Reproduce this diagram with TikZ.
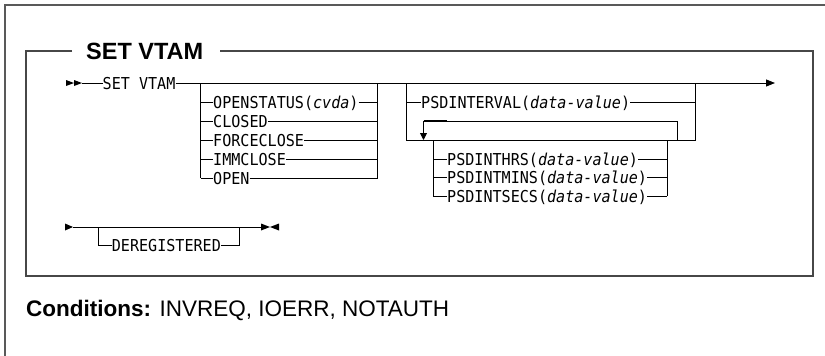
\documentclass[tikz,border=0pt]{standalone}
\usepackage{fontspec}
\setmainfont{Liberation Sans}
\newfontfamily\rrfont{DejaVu Sans Mono}[ItalicFont={DejaVu Sans Mono Oblique}]
\usetikzlibrary{arrows.meta}
\begin{document}
\begin{tikzpicture}[x=1pt,y=-1pt,
  rr/.style={line width=0.9pt, black},
  rrtext/.style={font=\rrfont\fontsize{16.4}{18}\selectfont, inner sep=0pt, anchor=base west, xscale=0.92},
  boxline/.style={line width=2pt, black!72},
  frameline/.style={line width=1.2pt, black!65},
  titletext/.style={font=\bfseries\fontsize{23.5}{26}\selectfont, inner sep=0pt, anchor=base west},
  condtext/.style={font=\fontsize{22.5}{26}\selectfont, inner sep=0pt, anchor=base west},
  tri/.style={fill=black},
  downtip/.style={-{Triangle[length=7pt,width=7pt]}}
]
\useasboundingbox (0,0) rectangle (825,356);

% outer frame (top and left)
\coordinate (fTL) at (5,5);
\coordinate (fTR) at (825,5);
\coordinate (fBL) at (5,356);
\draw[frameline] (fTR) -- (fTL) -- (fBL);

% inner box with title
\coordinate (bTL) at (26,51);
\coordinate (bBL) at (26,276);
\coordinate (bBR) at (813,276);
\coordinate (bTR) at (813,51);
\node[titletext] (title) at (86,59.5) {SET VTAM};
\coordinate (tA) at (72,51);
\coordinate (tB) at (220,51);
\draw[boxline] (tA) -- (bTL) -- (bBL) -- (bBR) -- (bTR) -- (tB);

% ---- main line ----
\coordinate (m) at (0,83);
\fill[tri] (66,80) -- (74,83) -- (66,86) -- cycle;
\fill[tri] (74,80) -- (82,83) -- (74,86) -- cycle;
\coordinate (mstart) at (82,83);
\node[rrtext] (set) at (102.5,89) {SET VTAM};
\coordinate (mend) at (775,83);
\draw[rr] (mstart) -- (set.west |- m);
\draw[rr, -{Triangle[length=9pt,width=7pt]}] (set.east |- m) -- (mend);

% ---- group 1 ----
\coordinate (g1l) at (200.7,0);
\coordinate (g1r) at (377.7,0);
\coordinate (r1) at (0,102);
\coordinate (r2) at (0,121);
\coordinate (r3) at (0,140);
\coordinate (r4) at (0,159);
\coordinate (r5) at (0,178);
\draw[rr] (g1l |- m) -- (g1l |- r5);
\draw[rr] (g1r |- m) -- (g1r |- r5);
\node[rrtext] (ostat) at (213,108) {OPENSTATUS(\textit{cvda})};
\node[rrtext] (closed) at (213,127) {CLOSED};
\node[rrtext] (force) at (213,146) {FORCECLOSE};
\node[rrtext] (imm) at (213,165) {IMMCLOSE};
\node[rrtext] (open) at (213,184) {OPEN};
\foreach \n/\r in {ostat/r1,closed/r2,force/r3,imm/r4,open/r5}{
  \draw[rr] (g1l |- \r) -- (\n.west |- \r);
  \draw[rr] (\n.east |- \r) -- (g1r |- \r);
}

% ---- group 2 ----
\coordinate (g2l) at (406,0);
\coordinate (g2r) at (695,0);
\coordinate (s1) at (0,102.3);
\coordinate (s2) at (0,140);
\draw[rr] (g2l |- m) -- (g2l |- s2) -- (g2r |- s2) -- (g2r |- m);
\node[rrtext] (pint) at (421,108.3) {PSDINTERVAL(\textit{data-value})};
\draw[rr] (g2l |- s1) -- (pint.west |- s1);
\draw[rr] (pint.east |- s1) -- (g2r |- s1);

% repeat loop
\coordinate (lpR) at (677,140);
\coordinate (lpRT) at (677,121);
\coordinate (lpLT) at (423.5,121);
\coordinate (lpL) at (423.5,140);
\coordinate (lpK) at (447,121);
\draw[rr, downtip] (lpR) -- (lpRT) -- (lpLT) -- (lpL);
\draw[line width=1.8pt] (lpLT) -- (lpK);

% inner group
\coordinate (g3l) at (433,0);
\coordinate (g3r) at (667,0);
\coordinate (q1) at (0,159);
\coordinate (q2) at (0,177.5);
\coordinate (q3) at (0,196);
\draw[rr] (g3l |- s2) -- (g3l |- q3);
\draw[rr] (g3r |- s2) -- (g3r |- q3);
\node[rrtext] (hrs) at (447,165) {PSDINTHRS(\textit{data-value})};
\node[rrtext] (mins) at (447,183.5) {PSDINTMINS(\textit{data-value})};
\node[rrtext] (secs) at (447,202) {PSDINTSECS(\textit{data-value})};
\foreach \n/\r in {hrs/q1,mins/q2,secs/q3}{
  \draw[rr] (g3l |- \r) -- (\n.west |- \r);
  \draw[rr] (\n.east |- \r) -- (g3r |- \r);
}

% ---- second line ----
\coordinate (n) at (0,227);
\fill[tri] (65,223.5) -- (73,227) -- (65,230.5) -- cycle;
\coordinate (nstart) at (73,227);
\coordinate (nend) at (261,227);
\draw[rr] (nstart) -- (nend);
\fill[tri] (261,223.5) -- (270,227) -- (261,230.5) -- cycle;
\fill[tri] (279,223.5) -- (270,227) -- (279,230.5) -- cycle;
\coordinate (g4l) at (98.3,0);
\coordinate (g4r) at (239,0);
\coordinate (d1) at (0,245);
\node[rrtext] (dereg) at (111.7,251) {DEREGISTERED};
\draw[rr] (g4l |- n) -- (g4l |- d1) -- (dereg.west |- d1);
\draw[rr] (dereg.east |- d1) -- (g4r |- d1) -- (g4r |- n);

% ---- conditions ----
\node[condtext] (cond) at (26,316) {\textbf{Conditions:} INVREQ, IOERR, NOTAUTH};
\end{tikzpicture}
\end{document}
